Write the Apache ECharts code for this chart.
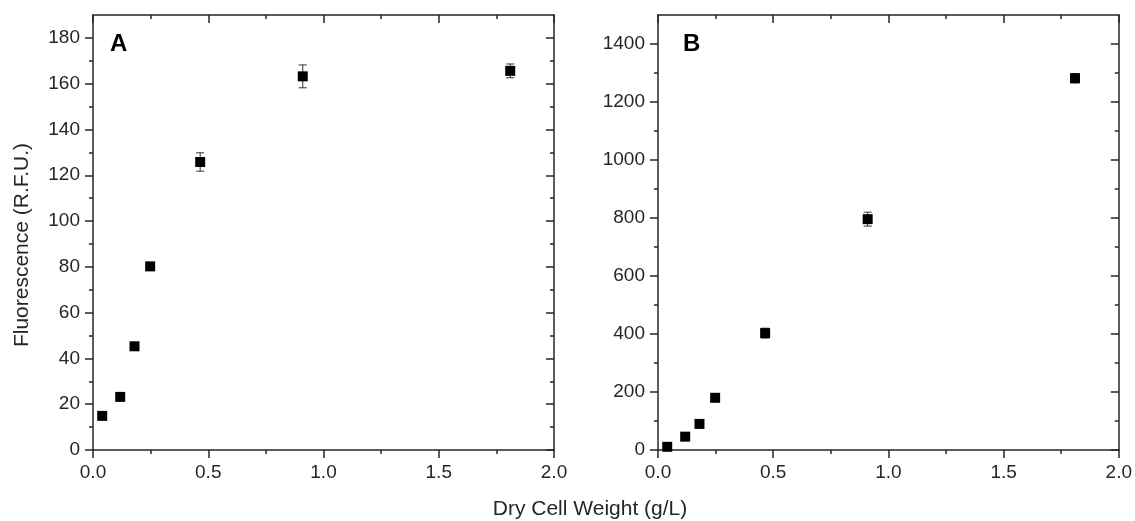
<!DOCTYPE html>
<html>
<head>
<meta charset="utf-8">
<script src="https://cdn.jsdelivr.net/npm/echarts@6/dist/echarts.min.js"></script>
<style>
html,body{margin:0;padding:0;background:#fff;}
#chart{width:1135px;height:521px;}
</style>
</head>
<body>
<div id="chart"></div>
<script>
// ---- data ----
var dryCellWeight = [0.04, 0.118, 0.18, 0.248, 0.465, 0.91, 1.81];
var fluorA = [14.9, 23.2, 45.3, 80.2, 125.8, 163.2, 165.6];
var errA = [1, 1, 1, 1, 4, 5, 3];
var fluorB = [11, 46, 90, 180, 403, 796, 1282];
var errB = [5, 8, 8, 8, 17, 24, 16];

var xMajorTicks = [0, 0.5, 1.0, 1.5, 2.0];
var xMinorTicks = [0.25, 0.75, 1.25, 1.75];
var yAMajorTicks = [0, 20, 40, 60, 80, 100, 120, 140, 160, 180];
var yAMinorTicks = [10, 30, 50, 70, 90, 110, 130, 150, 170];
var yBMajorTicks = [0, 200, 400, 600, 800, 1000, 1200, 1400];
var yBMinorTicks = [100, 300, 500, 700, 900, 1100, 1300];

var xTitle = 'Dry Cell Weight (g/L)';
var yTitle = 'Fluorescence (R.F.U.)';
var panelLabels = ['A', 'B'];

// ---- style ----
var FONT = '"Liberation Sans", Arial, sans-serif';
var AXIS_COLOR = '#262626';
var TEXT_COLOR = '#262626';

function axisPair(grid, pos, min, max, majors, minors, showLabels, fmt) {
  var inside = (pos === 'top' || pos === 'right');
  var major = {
    type: 'value', gridIndex: grid, position: pos, min: min, max: max,
    axisLine: { show: true, onZero: false, lineStyle: { color: AXIS_COLOR, width: 1.5 } },
    axisTick: { show: true, inside: inside, length: 8, customValues: majors,
      lineStyle: { color: AXIS_COLOR, width: 1.5 } },
    minorTick: { show: false },
    splitLine: { show: false },
    axisLabel: { show: showLabels, customValues: majors, margin: 13,
      color: TEXT_COLOR, fontSize: 19, fontFamily: FONT,
      formatter: fmt }
  };
  var minor = {
    type: 'value', gridIndex: grid, position: pos, min: min, max: max,
    axisLine: { show: false, onZero: false },
    axisTick: { show: true, inside: inside, length: 4, customValues: minors,
      lineStyle: { color: AXIS_COLOR, width: 1.5 } },
    minorTick: { show: false },
    splitLine: { show: false },
    axisLabel: { show: false, customValues: minors }
  };
  return [major, minor];
}

var xFmt = function (v) { return v.toFixed(1); };
var yFmt = function (v) { return String(v); };

var xAxes = [], yAxes = [];
var yRanges = [[0, 190, yAMajorTicks, yAMinorTicks], [0, 1500, yBMajorTicks, yBMinorTicks]];
for (var g = 0; g < 2; g++) {
  xAxes = xAxes.concat(axisPair(g, 'bottom', 0, 2, xMajorTicks, xMinorTicks, true, xFmt));
  xAxes = xAxes.concat(axisPair(g, 'top', 0, 2, xMajorTicks, xMinorTicks, false, xFmt));
  var r = yRanges[g];
  yAxes = yAxes.concat(axisPair(g, 'left', r[0], r[1], r[2], r[3], true, yFmt));
  yAxes = yAxes.concat(axisPair(g, 'right', r[0], r[1], r[2], r[3], false, yFmt));
}

function pts(xs, ys, es) {
  return xs.map(function (x, i) { return [x, ys[i], es[i]]; });
}

function errRender(params, api) {
  var x = api.value(0), y = api.value(1), e = api.value(2);
  var lo = api.coord([x, y - e]);
  var hi = api.coord([x, y + e]);
  var hw = 4;
  var st = { stroke: '#333', lineWidth: 1 };
  return {
    type: 'group',
    children: [
      { type: 'line', shape: { x1: lo[0], y1: lo[1], x2: hi[0], y2: hi[1] }, style: st },
      { type: 'line', shape: { x1: lo[0] - hw, y1: lo[1], x2: lo[0] + hw, y2: lo[1] }, style: st },
      { type: 'line', shape: { x1: hi[0] - hw, y1: hi[1], x2: hi[0] + hw, y2: hi[1] }, style: st }
    ]
  };
}

var dataA = pts(dryCellWeight, fluorA, errA);
var dataB = pts(dryCellWeight, fluorB, errB);

var markerStyle = { color: '#000', opacity: 1 };

var option = {
  backgroundColor: '#fff',
  animation: false,
  grid: [
    { left: 93, top: 15, width: 461, height: 435 },
    { left: 658, top: 15, width: 461, height: 435 }
  ],
  xAxis: xAxes,
  yAxis: yAxes,
  series: [
    { type: 'custom', xAxisIndex: 0, yAxisIndex: 0, data: dataA, renderItem: errRender, z: 2 },
    { type: 'scatter', xAxisIndex: 0, yAxisIndex: 0, data: dataA, symbol: 'rect', symbolSize: 10,
      itemStyle: markerStyle, z: 3 },
    { type: 'custom', xAxisIndex: 4, yAxisIndex: 4, data: dataB, renderItem: errRender, z: 2 },
    { type: 'scatter', xAxisIndex: 4, yAxisIndex: 4, data: dataB, symbol: 'rect', symbolSize: 10,
      itemStyle: markerStyle, z: 3 }
  ],
  graphic: [
    { type: 'text', x: 590, y: 509, style: { text: xTitle, fill: TEXT_COLOR, font: '21px ' + FONT,
      textAlign: 'center', textVerticalAlign: 'middle' } },
    { type: 'text', x: 22, y: 245, rotation: Math.PI / 2, style: { text: yTitle, fill: TEXT_COLOR,
      font: '21px ' + FONT, textAlign: 'center', textVerticalAlign: 'middle' } },
    { type: 'text', x: 110, y: 44, style: { text: panelLabels[0], fill: '#000',
      font: 'bold 24px ' + FONT, textAlign: 'left', textVerticalAlign: 'middle' } },
    { type: 'text', x: 683, y: 44, style: { text: panelLabels[1], fill: '#000',
      font: 'bold 24px ' + FONT, textAlign: 'left', textVerticalAlign: 'middle' } }
  ]
};

var chart = echarts.init(document.getElementById('chart'), null, { renderer: 'canvas' });
chart.setOption(option);
</script>
</body>
</html>
